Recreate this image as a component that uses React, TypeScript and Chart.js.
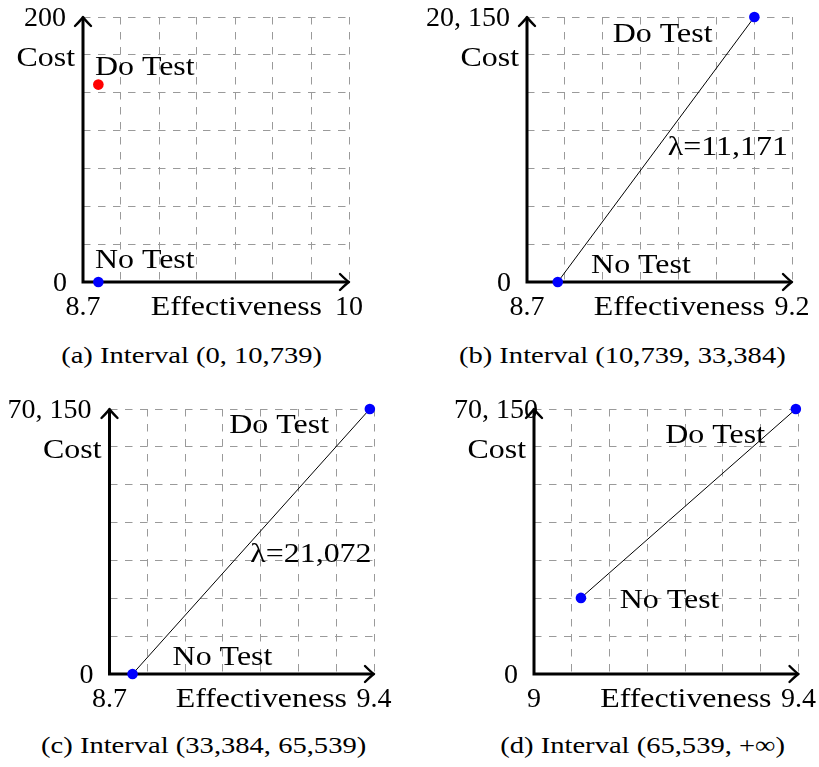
import { useEffect, useRef } from 'react';
import { Chart, registerables } from 'chart.js';

Chart.register(...registerables);

// ---------------- data ----------------
const STRATEGIES = ['No Test', 'Do Test'];

const EFFECT_A = [8.775, 8.775];
const COST_A = [0, 149];
const EFFECT_B = [8.758, 9.129];
const COST_B = [0, 20150];
const EFFECT_C = [8.761, 9.389];
const COST_C = [0, 70150];
const EFFECT_D = [9.071, 9.396];
const COST_D = [20150, 70150];

const X_TICKS_A = [8.7, 10];
const X_TICKS_B = [8.7, 9.2];
const X_TICKS_C = [8.7, 9.4];
const X_TICKS_D = [9, 9.4];
const X_TICK_LABELS_A = ['8.7', '10'];
const X_TICK_LABELS_B = ['8.7', '9.2'];
const X_TICK_LABELS_C = ['8.7', '9.4'];
const X_TICK_LABELS_D = ['9', '9.4'];

const Y_TICKS_A = [0, 200];
const Y_TICKS_B = [0, 20150];
const Y_TICKS_C = [0, 70150];
const Y_TICKS_D = [0, 70150];
const Y_TICK_LABELS_A = ['0', '200'];
const Y_TICK_LABELS_B = ['0', '20, 150'];
const Y_TICK_LABELS_C = ['0', '70, 150'];
const Y_TICK_LABELS_D = ['0', '70, 150'];

const LAMBDA_B = '\u03bb=11,171';
const LAMBDA_C = '\u03bb=21,072';

const CAPTIONS = [
  '(a) Interval (0, 10,739)',
  '(b) Interval (10,739, 33,384)',
  '(c) Interval (33,384, 65,539)',
  '(d) Interval (65,539, +\u221e)',
];

const X_TITLE = 'Effectiveness';
const Y_TITLE = 'Cost';

// ---------------- layout / style ----------------
const FONT_FAMILY = "'Liberation Serif'";
const LABEL_SIZE = 28;
const WORD_STRETCH = 1.14;
const NUMBER_STRETCH = 1.0;
const CAPTION_SIZE = 24;
const CAPTION_STRETCH = 1.19;
const BLUE = '#0000ff';
const RED = '#ff0000';

type Label = { text: string; x: number; y: number };
type Panel = {
  canvas: { left: number; top: number; width: number; height: number };
  area: { left: number; top: number; right: number; bottom: number };
  effect: number[];
  cost: number[];
  colors: string[];
  showLine: boolean;
  xTicks: number[];
  xTickLabels: string[];
  yTicks: number[];
  yTickLabels: string[];
  labels: Label[];
  yTopLabelGap: number;
  caption: string;
  captionCenter: number;
  captionTop: number;
};

const PANELS: Panel[] = [
  {
    canvas: { left: 0, top: 0, width: 410, height: 330 },
    area: { left: 83, top: 17, right: 349, bottom: 282 },
    effect: EFFECT_A,
    cost: COST_A,
    colors: [BLUE, RED],
    showLine: false,
    xTicks: X_TICKS_A,
    xTickLabels: X_TICK_LABELS_A,
    yTicks: Y_TICKS_A,
    yTickLabels: Y_TICK_LABELS_A,
    labels: [
      { text: STRATEGIES[1], x: 9.002, y: 156 },
      { text: STRATEGIES[0], x: 9.002, y: 10.6 },
    ],
    yTopLabelGap: 17,
    caption: CAPTIONS[0],
    captionCenter: 192,
    captionTop: 342,
  },
  {
    canvas: { left: 410, top: 0, width: 409, height: 330 },
    area: { left: 527, top: 17, right: 792, bottom: 282 },
    effect: EFFECT_B,
    cost: COST_B,
    colors: [BLUE, BLUE],
    showLine: true,
    xTicks: X_TICKS_B,
    xTickLabels: X_TICK_LABELS_B,
    yTicks: Y_TICKS_B,
    yTickLabels: Y_TICK_LABELS_B,
    labels: [
      { text: STRATEGIES[1], x: 8.956, y: 18249 },
      { text: LAMBDA_B, x: 9.079, y: 9657 },
      { text: STRATEGIES[0], x: 8.915, y: 684 },
    ],
    yTopLabelGap: 17,
    caption: CAPTIONS[1],
    captionCenter: 622,
    captionTop: 342,
  },
  {
    canvas: { left: 0, top: 385, width: 410, height: 330 },
    area: { left: 109.5, top: 409, right: 374, bottom: 674 },
    effect: EFFECT_C,
    cost: COST_C,
    colors: [BLUE, BLUE],
    showLine: true,
    xTicks: X_TICKS_C,
    xTickLabels: X_TICK_LABELS_C,
    yTicks: Y_TICKS_C,
    yTickLabels: Y_TICK_LABELS_C,
    labels: [
      { text: STRATEGIES[1], x: 9.149, y: 63797 },
      { text: LAMBDA_C, x: 9.233, y: 29649 },
      { text: STRATEGIES[0], x: 8.999, y: 2382 },
    ],
    yTopLabelGap: 18,
    caption: CAPTIONS[2],
    captionCenter: 204,
    captionTop: 732,
  },
  {
    canvas: { left: 410, top: 385, width: 409, height: 330 },
    area: { left: 534, top: 409, right: 798.5, bottom: 674 },
    effect: EFFECT_D,
    cost: COST_D,
    colors: [BLUE, BLUE],
    showLine: true,
    xTicks: X_TICKS_D,
    xTickLabels: X_TICK_LABELS_D,
    yTicks: Y_TICKS_D,
    yTickLabels: Y_TICK_LABELS_D,
    labels: [
      { text: STRATEGIES[1], x: 9.274, y: 61150 },
      { text: STRATEGIES[0], x: 9.205, y: 17471 },
    ],
    yTopLabelGap: -4,
    caption: CAPTIONS[3],
    captionCenter: 643,
    captionTop: 732,
  },
];

const gridTicks = (scale: any) => {
  const { min, max } = scale;
  scale.ticks = Array.from({ length: 8 }, (_, i) => ({ value: min + ((max - min) * i) / 7 }));
};

function drawArrowHead(ctx: CanvasRenderingContext2D, tx: number, ty: number, dir: 'right' | 'up') {
  ctx.beginPath();
  if (dir === 'right') {
    ctx.moveTo(tx - 9, ty - 8);
    ctx.quadraticCurveTo(tx - 3, ty - 2, tx, ty);
    ctx.quadraticCurveTo(tx - 3, ty + 2, tx - 9, ty + 8);
  } else {
    ctx.moveTo(tx - 8, ty + 9);
    ctx.quadraticCurveTo(tx - 2, ty + 3, tx, ty);
    ctx.quadraticCurveTo(tx + 2, ty + 3, tx + 8, ty + 9);
  }
  ctx.stroke();
}

function drawText(
  ctx: CanvasRenderingContext2D,
  text: string,
  x: number,
  y: number,
  align: CanvasTextAlign,
  stretch: number,
) {
  ctx.save();
  ctx.translate(x, y);
  ctx.scale(stretch, 1);
  ctx.textAlign = align;
  ctx.fillText(text, 0, 0);
  ctx.restore();
}

function makeOverlay(p: Panel) {
  return {
    id: 'tikzOverlay',
    beforeDatasetsDraw(chart: any) {
      const { ctx, chartArea } = chart;
      const { left, top, right, bottom } = chartArea;
      ctx.save();
      ctx.strokeStyle = '#000';
      ctx.lineWidth = 3;
      ctx.lineCap = 'butt';
      ctx.beginPath();
      ctx.moveTo(left - 1.5, bottom);
      ctx.lineTo(right - 1, bottom);
      ctx.moveTo(left, bottom + 1.5);
      ctx.lineTo(left, top + 1);
      ctx.stroke();
      ctx.lineWidth = 2.4;
      ctx.lineCap = 'round';
      ctx.lineJoin = 'round';
      drawArrowHead(ctx, right, bottom, 'right');
      drawArrowHead(ctx, left, top, 'up');
      ctx.restore();
    },
    afterDatasetsDraw(chart: any) {
      const { ctx, chartArea, scales } = chart;
      const { left, top, right, bottom } = chartArea;
      const xs = scales.x;
      const ys = scales.y;
      ctx.save();
      ctx.fillStyle = '#000';
      ctx.textBaseline = 'alphabetic';
      ctx.font = `${LABEL_SIZE}px ${FONT_FAMILY}, serif`;

      // tick labels
      p.xTicks.forEach((v, i) => {
        drawText(ctx, p.xTickLabels[i], xs.getPixelForValue(v), bottom + 33, 'center', NUMBER_STRETCH);
      });
      p.yTicks.forEach((v, i) => {
        const gap = i === p.yTicks.length - 1 ? p.yTopLabelGap : 16;
        drawText(ctx, p.yTickLabels[i], left - gap, ys.getPixelForValue(v) + 9, 'right', NUMBER_STRETCH);
      });

      // axis titles
      drawText(ctx, X_TITLE, right - 27, bottom + 33, 'right', WORD_STRETCH);
      drawText(ctx, Y_TITLE, left - 8, top + 49, 'right', WORD_STRETCH);

      // annotations
      p.labels.forEach((l) => {
        drawText(ctx, l.text, xs.getPixelForValue(l.x), ys.getPixelForValue(l.y), 'center', WORD_STRETCH);
      });
      ctx.restore();
    },
  };
}

function PanelChart({ p }: { p: Panel }) {
  const ref = useRef<HTMLCanvasElement | null>(null);
  useEffect(() => {
    if (!ref.current) return;
    const c = p.canvas;
    const a = p.area;
    const chart = new Chart(ref.current, {
      type: 'scatter',
      data: {
        datasets: [
          {
            label: 'strategies',
            data: p.effect.map((x, i) => ({ x, y: p.cost[i] })),
            showLine: p.showLine,
            borderColor: '#000',
            borderWidth: 1,
            pointBackgroundColor: p.colors,
            pointBorderWidth: 0,
            pointRadius: 5.3,
            pointHoverRadius: 5.3,
            clip: false,
          } as any,
        ],
      },
      options: {
        animation: false,
        responsive: false,
        events: [],
        layout: {
          autoPadding: false,
          padding: {
            left: a.left - c.left,
            top: a.top - c.top,
            right: c.left + c.width - a.right,
            bottom: c.top + c.height - a.bottom,
          },
        },
        plugins: { legend: { display: false }, tooltip: { enabled: false } },
        scales: {
          x: {
            type: 'linear',
            min: p.xTicks[0],
            max: p.xTicks[p.xTicks.length - 1],
            afterBuildTicks: gridTicks,
            ticks: { display: false },
            grid: { color: '#9a9a9a', lineWidth: 1, drawTicks: false },
            border: { display: false, dash: [7.5, 7.5] },
          },
          y: {
            type: 'linear',
            min: p.yTicks[0],
            max: p.yTicks[p.yTicks.length - 1],
            afterBuildTicks: gridTicks,
            ticks: { display: false },
            grid: { color: '#9a9a9a', lineWidth: 1, drawTicks: false },
            border: { display: false, dash: [7.5, 7.5] },
          },
        },
      } as any,
      plugins: [makeOverlay(p)],
    });
    return () => chart.destroy();
  }, [p]);
  const c = p.canvas;
  return (
    <>
      <canvas
        ref={ref}
        width={c.width}
        height={c.height}
        style={{ position: 'absolute', left: c.left, top: c.top, width: c.width, height: c.height }}
      />
      <div
        style={{
          position: 'absolute',
          left: p.captionCenter - 200,
          top: p.captionTop,
          width: 400,
          textAlign: 'center',
          fontFamily: `${FONT_FAMILY}, serif`,
          fontSize: CAPTION_SIZE,
          lineHeight: '26px',
          whiteSpace: 'nowrap',
          color: '#000',
        }}
      >
        <span style={{ display: 'inline-block', transform: `scaleX(${CAPTION_STRETCH})` }}>{p.caption}</span>
      </div>
    </>
  );
}

export default function App() {
  return (
    <div style={{ position: 'absolute', left: 0, top: 0, width: 819, height: 767, background: '#fff' }}>
      {PANELS.map((p, i) => (
        <PanelChart key={i} p={p} />
      ))}
    </div>
  );
}
